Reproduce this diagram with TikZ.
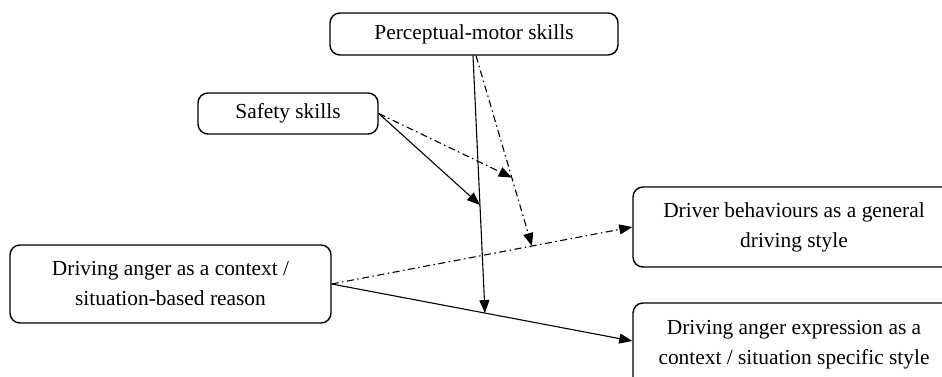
\documentclass[tikz,border=0pt]{standalone}
\usepackage{fontspec}
\setmainfont{Liberation Serif}
\usetikzlibrary{arrows.meta}
\begin{document}
\begin{tikzpicture}[x=1pt,y=-1pt,
    box/.style={draw,line width=1.4pt,rounded corners=10pt,align=center,inner sep=0pt},
    dashdotline/.style={dash pattern=on 7pt off 3.5pt on 1.5pt off 3.5pt},
    tip/.style={-{Triangle[length=13pt,width=10pt]}},
    line width=1.1pt,font=\fontsize{21.4}{30}\selectfont]
\useasboundingbox (0,0) rectangle (942,377);
    \node [box,minimum width=288pt,minimum height=42pt] (perc) at (474,34) {Perceptual-motor skills};
    \node [box,minimum width=180pt,minimum height=41pt] (safe) at (288,113.5) {Safety skills};
    \node [box,minimum width=321pt,minimum height=78pt] (anger) at (170.5,284)
        {Driving anger as a context /\\situation-based reason};
    \node [box,minimum width=322pt,minimum height=80pt] (behav) at (794,227)
        {Driver behaviours as a general\\driving style};
    \node [box,minimum width=322pt,minimum height=84pt] (expr) at (794,345)
        {Driving anger expression as a\\context / situation specific style};
    % main paths
    \draw [tip,dashdotline] (anger.east) -- coordinate[pos=0.666] (m1) (behav.west);
    \draw [tip] (anger.east) -- coordinate[pos=0.51] (m2) ([yshift=4pt]expr.west);
    % moderators
    \draw [tip] ([xshift=-1pt]perc.south) -- coordinate[pos=0.58] (m3) (m2);
    \draw [tip,dashdotline] ([xshift=2pt]perc.south) -- coordinate[pos=0.64] (m4) (m1);
    \draw [tip] (safe.east) -- (m3);
    \draw [tip,dashdotline] (safe.east) -- (m4);
\end{tikzpicture}
\end{document}
